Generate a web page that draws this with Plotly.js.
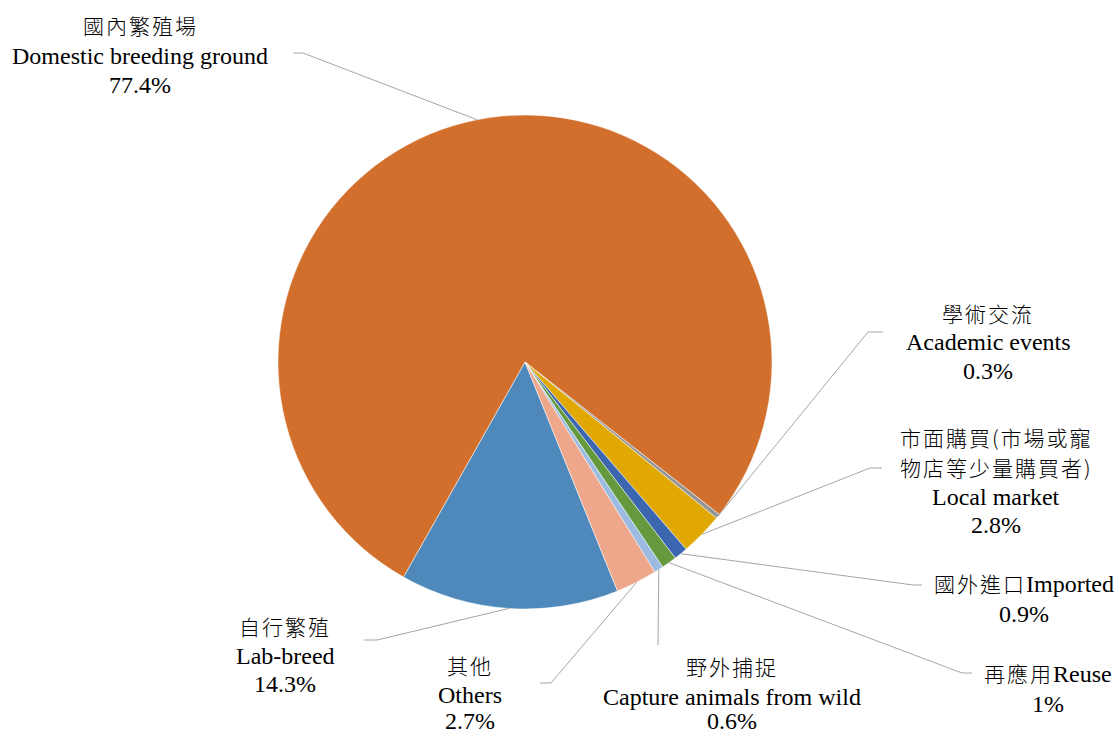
<!DOCTYPE html>
<html><head><meta charset="utf-8">
<script src="https://cdn.plot.ly/plotly-3.0.1.min.js"></script>
<style>html,body{margin:0;padding:0;background:#fff}</style>
</head><body>
<div id="chart" style="width:1119px;height:735px"></div>
<script>
// ---- data ----
const categoriesZh = ['自行繁殖', '國內繁殖場', '學術交流', '市面購買(市場或寵物店等少量購買者)', '國外進口', '再應用', '野外捕捉', '其他'];
const categoriesEn = ['Lab-breed', 'Domestic breeding ground', 'Academic events', 'Local market', 'Imported', 'Reuse', 'Capture animals from wild', 'Others'];
const values = [14.3, 77.4, 0.3, 2.8, 0.9, 1, 0.6, 2.7];
const sliceColors = ['#4F89BC', '#D26F2D', '#959595', '#E0A800', '#3D66B0', '#64993D', '#9BBBE1', '#EEA78A'];

// ---- layout ----
const W = 1119, H = 735;
const pieCx = 525, pieCy = 362, pieR = 247, rotationDeg = 158;
const labelLayout = [
  {cx: 285, ys: [626, 656, 684], inline: false, zhBreak: 0, elbow: [377, 640], end: [364, 640]},
  {cx: 140, ys: [25, 56, 85], inline: false, zhBreak: 0, elbow: [303, 53], end: [293, 53]},
  {cx: 988, ys: [313, 342, 371], inline: false, zhBreak: 0, elbow: [868, 332], end: [883, 332]},
  {cx: 996, ys: [437, 467, 497, 525], inline: false, zhBreak: 9, elbow: [870, 468], end: [882, 468]},
  {cx: 1024, ys: [583, 614], inline: true, zhBreak: 0, elbow: [913, 585], end: [922, 585]},
  {cx: 1048, ys: [673, 704], inline: true, zhBreak: 0, elbow: [962, 673], end: [972, 673]},
  {cx: 732, ys: [666, 697, 721], inline: false, zhBreak: 0, elbow: [658, 645], end: [658, 645]},
  {cx: 470, ys: [665, 695, 721], inline: false, zhBreak: 0, elbow: [551, 683], end: [540, 683]}
];

const px = x => x / W;
const py = y => 1 - y / H;
const zhSpan = t => `<span style="font-family:'Noto Sans CJK TC';font-size:21px;font-weight:300;letter-spacing:2px">${t}</span>`;

const total = values.reduce((a, b) => a + b, 0);
let cum = 0;
const annotations = [];
const shapes = [];
values.forEach((v, i) => {
  const mid = (rotationDeg + (cum + v / 2) / total * 360) * Math.PI / 180;
  cum += v;
  const ax = pieCx + pieR * Math.sin(mid);
  const ay = pieCy - pieR * Math.cos(mid);
  const L = labelLayout[i];
  const pct = v + '%';
  let lines;
  if (L.inline) {
    lines = [zhSpan(categoriesZh[i]) + categoriesEn[i], pct];
  } else if (L.zhBreak) {
    lines = [zhSpan(categoriesZh[i].slice(0, L.zhBreak)), zhSpan(categoriesZh[i].slice(L.zhBreak)), categoriesEn[i], pct];
  } else {
    lines = [zhSpan(categoriesZh[i]), categoriesEn[i], pct];
  }
  lines.forEach((t, k) => {
    annotations.push({
      x: px(L.cx), y: py(L.ys[k]), xref: 'paper', yref: 'paper',
      xanchor: 'center', yanchor: 'middle', showarrow: false, text: t,
      font: {family: 'Liberation Serif, "Times New Roman", serif', size: 24, color: '#000'}
    });
  });
  shapes.push({
    type: 'path', xref: 'paper', yref: 'paper',
    path: `M ${px(ax)} ${py(ay)} L ${px(L.elbow[0])} ${py(L.elbow[1])} L ${px(L.end[0])} ${py(L.end[1])}`,
    line: {color: '#A6A6A6', width: 1}
  });
});

const trace = {
  type: 'pie',
  labels: categoriesEn,
  values: values,
  sort: false,
  direction: 'clockwise',
  rotation: rotationDeg,
  textinfo: 'none',
  hoverinfo: 'none',
  marker: {colors: sliceColors, line: {color: '#ffffff', width: 0.5}},
  domain: {x: [px(pieCx - pieR), px(pieCx + pieR)], y: [py(pieCy + pieR), py(pieCy - pieR)]}
};

Plotly.newPlot('chart', [trace], {
  width: W, height: H,
  margin: {l: 0, r: 0, t: 0, b: 0},
  showlegend: false,
  paper_bgcolor: '#fff',
  annotations: annotations,
  shapes: shapes
}, {displayModeBar: false, staticPlot: true});
</script>
</body></html>
